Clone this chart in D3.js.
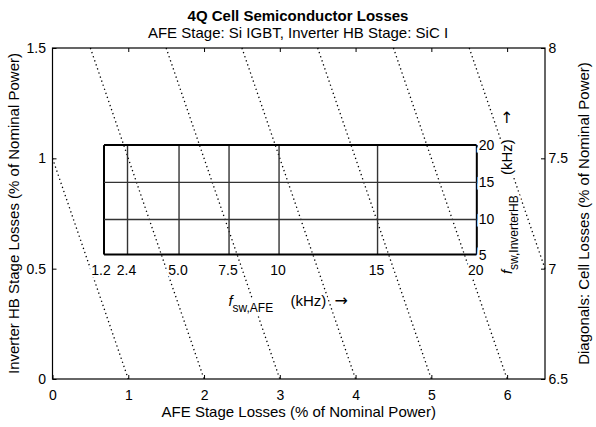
<!DOCTYPE html>
<html>
<head>
<meta charset="utf-8">
<script src="https://cdn.jsdelivr.net/npm/d3@7"></script>
<style>
  body { margin: 0; background: #fff; }
  text { font-family: "Liberation Sans", Arial, Helvetica, sans-serif; fill: #000; }
</style>
</head>
<body>
<div id="chart"></div>
<script>
// axis ticks
var xTicks = [0, 1, 2, 3, 4, 5, 6];
var yTicks = [0, 0.5, 1, 1.5];
var diagTicks = [6.5, 7, 7.5, 8];

// diagonals: cell losses = AFE losses + inverter HB losses
var diagTotals = [1, 2, 3, 4, 5, 6, 7];

// switching frequency grid (kHz) and the losses they map to
var fswAfe = ["1.2", "2.4", "5.0", "7.5", "10", "15", "20"];
var afeLoss = [0.68, 0.99, 1.67, 2.33, 2.99, 4.29, 5.60];
var fswInv = ["5", "10", "15", "20"];
var invLoss = [0.564, 0.723, 0.891, 1.060];

// set the dimensions and margins of the graph
var W = 596, H = 427;
var margin = {top: 48, right: 51, bottom: 48, left: 52.5},
    width = W - margin.left - margin.right,
    height = H - margin.top - margin.bottom;

var svg = d3.select("#chart")
  .append("svg")
    .attr("width", W)
    .attr("height", H)
  .append("g")
    .attr("transform", "translate(" + margin.left + "," + margin.top + ")");

var x = d3.scaleLinear().domain([0, 6.5]).range([0, width]);
var y = d3.scaleLinear().domain([0, 1.5]).range([height, 0]);
var y2 = d3.scaleLinear().domain([6.5, 8]).range([height, 0]);

//////////
// DIAGONALS //
//////////
svg.selectAll("diag")
  .data(diagTotals)
  .enter()
  .append("line")
    .attr("x1", function(c) { return x(Math.max(0, c - 1.5)); })
    .attr("y1", function(c) { return y(Math.min(1.5, c)); })
    .attr("x2", function(c) { return x(Math.min(6.5, c)); })
    .attr("y2", function(c) { return y(Math.max(0, c - 6.5)); })
    .attr("stroke", "#000")
    .attr("stroke-width", 1.3)
    .attr("stroke-dasharray", "1.3,3")
    .attr("stroke-linecap", "butt");

//////////
// AXES //
//////////
var tickLen = 4;
function styleAxis(g) {
  g.select(".domain").remove();
  g.selectAll(".tick line").attr("stroke", "#000");
  g.selectAll(".tick text")
    .style("font-family", '"Liberation Sans", Arial, sans-serif')
    .style("font-size", "14px")
    .attr("fill", "#000");
}

svg.append("g")
  .attr("transform", "translate(0," + height + ")")
  .call(d3.axisBottom(x).tickValues(xTicks).tickFormat(d3.format("d")).tickSizeInner(-tickLen).tickSizeOuter(0).tickPadding(11))
  .call(styleAxis);

svg.append("g")
  .call(d3.axisTop(x).tickValues(xTicks.slice(1)).tickFormat("").tickSizeInner(-tickLen).tickSizeOuter(0))
  .call(styleAxis);

svg.append("g")
  .call(d3.axisLeft(y).tickValues(yTicks).tickFormat(function(d) { return d; }).tickSizeInner(-tickLen).tickSizeOuter(0).tickPadding(6.5))
  .call(styleAxis);

svg.append("g")
  .attr("transform", "translate(" + width + ",0)")
  .call(d3.axisRight(y2).tickValues(diagTicks).tickFormat(function(d) { return d; }).tickSizeInner(-tickLen).tickSizeOuter(0).tickPadding(3.5))
  .call(styleAxis);

// frame
svg.append("rect")
  .attr("width", width)
  .attr("height", height)
  .attr("fill", "none")
  .attr("stroke", "#000")
  .attr("stroke-width", 1.2);

//////////
// FREQUENCY GRID //
//////////
var gx0 = x(afeLoss[0]), gx1 = x(afeLoss[afeLoss.length - 1]);
var gy0 = y(invLoss[0]), gy1 = y(invLoss[invLoss.length - 1]);

svg.selectAll("vgrid")
  .data(afeLoss)
  .enter()
  .append("line")
    .attr("x1", function(d) { return x(d); })
    .attr("x2", function(d) { return x(d); })
    .attr("y1", gy0)
    .attr("y2", gy1)
    .attr("stroke", function(d, i) { return (i == 0 || i == afeLoss.length - 1) ? "#000" : "#333"; })
    .attr("stroke-width", function(d, i) { return (i == 0 || i == afeLoss.length - 1) ? 2 : 1.4; });

svg.selectAll("hgrid")
  .data(invLoss)
  .enter()
  .append("line")
    .attr("x1", gx0)
    .attr("x2", gx1)
    .attr("y1", function(d) { return y(d); })
    .attr("y2", function(d) { return y(d); })
    .attr("stroke", function(d, i) { return (i == 0 || i == invLoss.length - 1) ? "#000" : "#333"; })
    .attr("stroke-width", function(d, i) { return (i == 0 || i == invLoss.length - 1) ? 2 : 1.4; });

// labels get a white halo so the diagonals break around them
function halo(sel) {
  sel.attr("stroke", "#fff").attr("stroke-width", 5).attr("paint-order", "stroke");
}

svg.selectAll("afelab")
  .data(fswAfe)
  .enter()
  .append("text")
    .attr("x", function(d, i) { return x(afeLoss[i]) - (i == 0 ? 3 : 1); })
    .attr("y", gy0 + 20)
    .attr("text-anchor", "middle")
    .style("font-size", "14px")
    .text(function(d) { return d; })
    .call(halo);

svg.selectAll("invlab")
  .data(fswInv)
  .enter()
  .append("text")
    .attr("x", gx1 + 2)
    .attr("y", function(d, i) { return y(invLoss[i]) + 5; })
    .attr("text-anchor", "start")
    .style("font-size", "14px")
    .text(function(d) { return d; })
    .call(halo);

// f_sw,AFE (kHz) ->
var fl = svg.append("g").attr("transform", "translate(0," + (gy0 + 51) + ")");
fl.append("text").attr("x", 176).attr("y", 0).style("font-size", "15px").style("font-style", "italic").text("f").call(halo);
fl.append("text").attr("x", 180).attr("y", 6).style("font-size", "12px").text("sw,AFE").call(halo);
fl.append("text").attr("x", 238).attr("y", 0).style("font-size", "15px").text("(kHz)").call(halo);
fl.append("text").attr("x", 282).attr("y", 0).style("font-family", '"DejaVu Sans", sans-serif').style("font-size", "16px").text("\u2192").call(halo);

// f_sw,InverterHB (kHz) ->
var rl = svg.append("g").attr("transform", "translate(" + (gx1 + 35) + ",0) rotate(-90)");
rl.append("text").attr("x", -226).attr("y", 0).style("font-size", "15px").style("font-style", "italic").text("f").call(halo);
rl.append("text").attr("x", -222).attr("y", 6).style("font-size", "12px").text("sw,InverterHB").call(halo);
rl.append("text").attr("x", -127).attr("y", 0).style("font-size", "15px").text("(kHz)").call(halo);
rl.append("text").attr("x", -76).attr("y", 0).style("font-family", '"DejaVu Sans", sans-serif').style("font-size", "16px").text("\u2192").call(halo);

//////////
// TITLES //
//////////
var root = d3.select("svg");
root.append("text")
  .attr("x", W / 2).attr("y", 21)
  .attr("text-anchor", "middle")
  .style("font-size", "15px").style("font-weight", "bold")
  .text("4Q Cell Semiconductor Losses");

root.append("text")
  .attr("x", W / 2).attr("y", 38)
  .attr("text-anchor", "middle")
  .style("font-size", "15px")
  .text("AFE Stage: Si IGBT, Inverter HB Stage: SiC I");

root.append("text")
  .attr("x", margin.left + width / 2).attr("y", 417)
  .attr("text-anchor", "middle")
  .style("font-size", "15px")
  .text("AFE Stage Losses (% of Nominal Power)");

root.append("text")
  .attr("transform", "translate(19," + (margin.top + height / 2) + ") rotate(-90)")
  .attr("text-anchor", "middle")
  .style("font-size", "15px")
  .text("Inverter HB Stage Losses (% of Nominal Power)");

root.append("text")
  .attr("transform", "translate(589," + (margin.top + height / 2) + ") rotate(-90)")
  .attr("text-anchor", "middle")
  .style("font-size", "15px")
  .text("Diagonals: Cell Losses (% of Nominal Power)");
</script>
</body>
</html>
